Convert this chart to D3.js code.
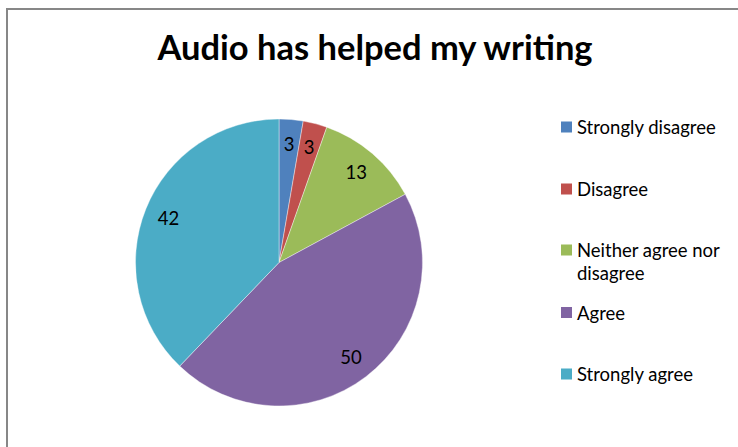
<!DOCTYPE html>
<html><head><meta charset="utf-8">
<script src="https://cdn.jsdelivr.net/npm/d3@7"></script>
<style>html,body{margin:0;padding:0;background:#fff;}svg{display:block;}</style>
</head><body>
<script>
const categories = ["Strongly disagree", "Disagree", "Neither agree nor disagree", "Agree", "Strongly agree"];
const values = [3, 3, 13, 50, 42];
const colors = ["#4F81BD", "#C0504D", "#9BBB59", "#8064A2", "#4BACC6"];
const title = "Audio has helped my writing";
const legendLines = [["Strongly disagree"], ["Disagree"], ["Neither agree nor", "disagree"], ["Agree"], ["Strongly agree"]];

const W = 738, H = 447;
const font = "Lato, 'Open Sans', sans-serif";
const svg = d3.select("body").append("svg").attr("width", W).attr("height", H);
svg.append("rect").attr("width", W).attr("height", H).attr("fill", "#fff");
// border
svg.append("path").attr("d", `M7,${H} V9 H${W}`).attr("fill", "none").attr("stroke", "#878787").attr("stroke-width", 2);

svg.append("text").attr("x", 375).attr("y", 60).attr("text-anchor", "middle")
  .attr("font-family", font).attr("font-weight", "bold").attr("font-size", 34.5).attr("fill", "#000").text(title);

const cx = 279, cy = 262.5, r = 143.5;
const pie = d3.pie().sort(null).value(d => d)(values);
const arc = d3.arc().innerRadius(0).outerRadius(r);
const labelArc = d3.arc().innerRadius(119).outerRadius(119);
const g = svg.append("g").attr("transform", `translate(${cx},${cy})`);
g.selectAll("path").data(pie).join("path").attr("d", arc).attr("fill", (d, i) => colors[i])
  .attr("stroke", "#fff").attr("stroke-width", 0.4);
g.selectAll("text").data(pie).join("text")
  .attr("transform", d => `translate(${labelArc.centroid(d)})`)
  .attr("text-anchor", "middle").attr("dominant-baseline", "central")
  .attr("font-family", font).attr("font-size", 18.5).attr("fill", "#000")
  .text(d => d.data);

const ys = [127, 189, 250, 312.5, 374];
const lg = svg.append("g");
categories.forEach((c, i) => {
  lg.append("rect").attr("x", 561).attr("y", ys[i] - 5.5).attr("width", 11).attr("height", 11).attr("fill", colors[i]);
  legendLines[i].forEach((line, j) => {
    lg.append("text").attr("x", 577).attr("y", ys[i] + 23 * j).attr("dominant-baseline", "central")
      .attr("font-family", font).attr("font-size", 18.5).attr("fill", "#000").text(line);
  });
});
</script>
</body></html>
